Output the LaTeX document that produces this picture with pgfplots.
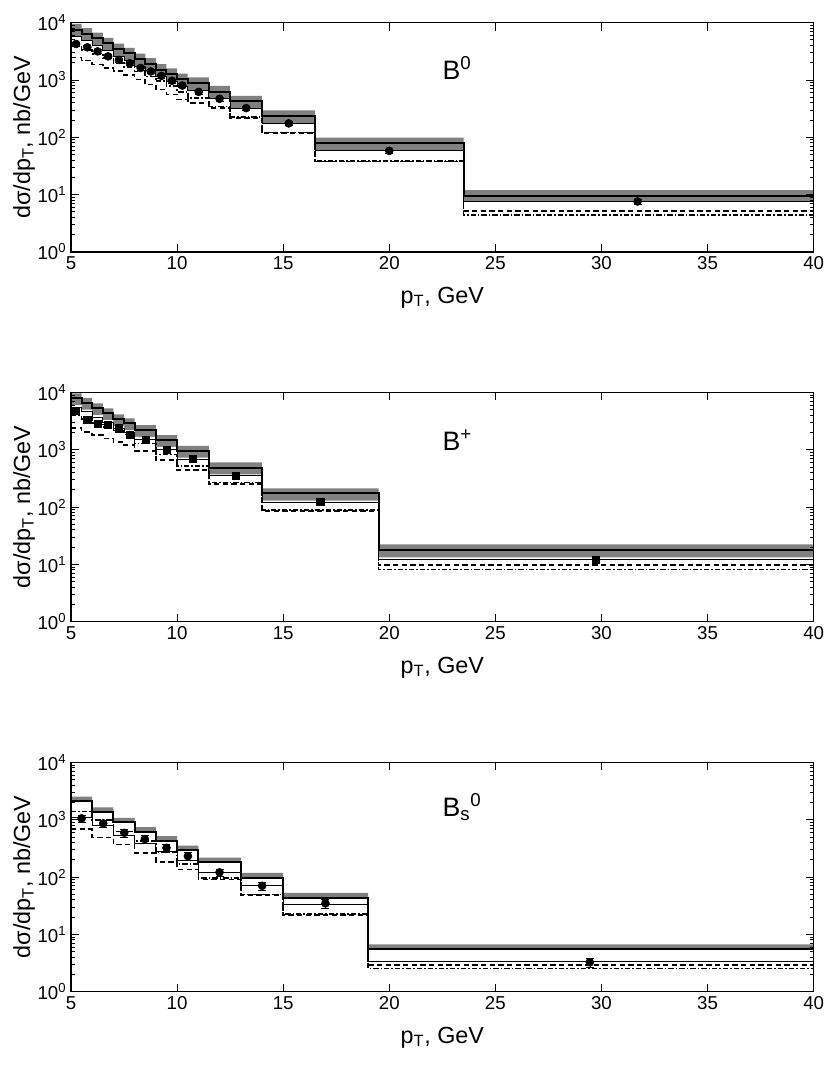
\documentclass[border=0pt]{standalone}
\usepackage{fontspec}
\setmainfont{Liberation Sans}
\usepackage{pgfplots}
\usepackage{pgfplotstable}
\pgfplotsset{compat=1.18}

% histogram tables: lower bin edge, band top, central, band bottom, thin, dashed, dash-dot
\pgfplotstableread{
x    up    c     lo    t     d     dd
5    9500  7600  5700  5700  2480  3900
5.5  8000  6400  4800  4800  2190  3350
6    6690  5350  4010  4010  1860  2850
6.5  5440  4350  3260  3260  1620  2400
7    4310  3450  2590  2590  1440  2000
7.5  3630  2900  2180  2180  1230  1700
8    2880  2300  1730  1730  1020  1400
8.5  2400  1920  1440  1440  830   1150
9    1900  1520  1140  1140  680   950
9.5  1590  1270  950   950   560   780
10   1290  1030  770   770   457   620
10.5 1110  885   660   660   400   480
11.5 790   630   470   470   324   345
12.5 528   422   316   316   216   225
14   294   235   176   176   118   122
16.5 99    79    59    59    38    39
23.5 12    9.6   7.5   7.5   5.2   4.4
40   12    9.6   7.5   7.5   5.2   4.4
}\hzero
\pgfplotstableread{
x     y     e
5.24  4250  340
5.77  3720  300
6.25  3160  250
6.75  2580  210
7.26  2240  180
7.77  1960  160
8.28  1620  130
8.76  1410  110
9.26  1180  95
9.76  970   80
10.25 800   65
11.02 620   50
12.0  470   38
13.26 324   26
15.26 175   14
20.0  58    5
31.7  7.6   0.8
}\pzero

\pgfplotstableread{
x    up    c     lo    t     d     dd
5    9590  7860  5970  5500  2410  4000
5.5  8050  6600  5020  4620  2060  3400
6    6430  5270  4000  3690  1800  2900
6.5  5250  4300  3270  3010  1580  2500
7    4140  3390  2580  2370  1380  2150
7.5  3510  2880  2190  2020  1200  1850
8    2680  2200  1670  1540  950   1290
9    1790  1470  1120  1030  660   830
10   1170  960   730   670   442   518
11.5 600   484   372   351   252   270
14   212   173   130   121   85    88
19.5 22.4  17.8  13.3  12.4  9.7   8.2
40   22.4  17.8  13.3  12.4  9.7   8.2
}\hplus
\pgfplotstableread{
x     y     e
5.24  4720  570
5.77  3380  400
6.25  2880  350
6.75  2690  320
7.26  2360  280
7.77  1800  220
8.51  1470  180
9.5   1010  120
10.75 707   85
12.76 347   42
16.75 124   15
29.72 11.9  1.6
}\pplus

\pgfplotstableread{
x    up    c     lo    t     d     dd
5    2540  2115  2115  1080  687   1400
6    1650  1377  1377  780   491   1000
7    1080  898   898   540   372   620
8    740   617   617   390   265   430
9    516   430   430   275   185   270
10   355   296   296   195   136   170
11   218   182   182   119   91    97
13   118   98    98    72.5  48.5  50
15   53    44    44    33.8  21.7  22.5
19   6.7   5.5   5.5   3.43  2.92  2.56
40   6.7   5.5   5.5   3.43  2.92  2.56
}\hs
\pgfplotstableread{
x     y     e
5.5   1056  160
6.52  864   130
7.51  592   90
8.48  460   75
9.5   324   50
10.51 232   38
12.0  121   18
14.01 70.5  12
16.99 34.8  6
29.45 3.26  0.55
}\ps

\pgfplotsset{
  bpanel/.style={
    scale only axis, width=557pt, height=172pt,
    xmin=5, xmax=40, ymin=1, ymax=10000,
    xtick={5,10,...,40},
    ytick={1,10,100,1000,10000},
    yticklabels={10\textsuperscript{0},10\textsuperscript{1},10\textsuperscript{2},10\textsuperscript{3},10\textsuperscript{4}},
    extra y ticks={2,3,4,5,6,7,8,9,20,30,40,50,60,70,80,90,200,300,400,500,600,700,800,900,2000,3000,4000,5000,6000,7000,8000,9000},
    extra y tick labels={},
    extra y tick style={major tick length=3pt},
    /pgf/number format/assume math mode=true,
    tick label style={font=\fontsize{14}{16}\selectfont},
    label style={font=\fontsize{17.5}{21}\selectfont},
    xlabel={p\textsubscript{T}, GeV},
    ylabel={dσ/dp\textsubscript{T}, nb/GeV},
    xlabel style={at={(axis description cs:0.5,-0.224)}, anchor=base},
    ylabel style={at={(axis description cs:-0.063,0.5)}, anchor=center},
    axis line style={line width=0.9pt},
    major tick length=6pt,
    tick style={black, line width=0.7pt},
    axis on top,
  },
  thick hist/.style={black, line width=1.5pt, const plot mark left},
  thin hist/.style={black, line width=0.7pt, const plot mark left},
  dash hist/.style={black, line width=1.2pt, const plot mark left, dash pattern=on 4pt off 2.5pt},
  dd hist/.style={black, line width=1.2pt, const plot mark left, dash pattern=on 4pt off 1.5pt on 1.2pt off 1.5pt},
  band top/.style={fill=gray, draw=none, const plot mark left},
  band bottom/.style={fill=white, draw=none, const plot mark left},
}
\tikzset{mlabel/.style={anchor=base west, inner sep=0pt, font=\fontsize{20}{24}\selectfont}}

\begin{document}
\begin{tikzpicture}
\path[use as bounding box] (-53.25pt,-609.75pt) rectangle (569.25pt,189pt);

\begin{axis}[bpanel, ymode=log, at={(0,0)}, anchor=south west]
\addplot[band top] table[x=x,y=up]{\hzero} \closedcycle;
\addplot[band bottom] table[x=x,y=lo]{\hzero} \closedcycle;
\addplot[thin hist] table[x=x,y=t]{\hzero};
\addplot[thick hist] table[x=x,y=c]{\hzero};
\addplot[dash hist] table[x=x,y=d]{\hzero};
\addplot[dd hist] table[x=x,y=dd]{\hzero};
\addplot[only marks, black, mark=*, mark size=3pt,
  error bars/.cd, y dir=both, y explicit]
  table[x=x,y=y,y error=e]{\pzero};
\node[mlabel] at (rel axis cs:0.50,0.751) {B\textsuperscript{0}};
\end{axis}

\begin{axis}[bpanel, ymode=log, at={(0,-277.3pt)}, anchor=south west]
\addplot[band top] table[x=x,y=up]{\hplus} \closedcycle;
\addplot[band bottom] table[x=x,y=lo]{\hplus} \closedcycle;
\addplot[thin hist] table[x=x,y=t]{\hplus};
\addplot[thick hist] table[x=x,y=c]{\hplus};
\addplot[dash hist] table[x=x,y=d]{\hplus};
\addplot[dd hist] table[x=x,y=dd]{\hplus};
\addplot[only marks, black, mark=square*, mark size=2.7pt,
  error bars/.cd, y dir=both, y explicit]
  table[x=x,y=y,y error=e]{\pplus};
\node[mlabel] at (rel axis cs:0.50,0.748) {B\textsuperscript{+}};
\end{axis}

\begin{axis}[bpanel, ymode=log, at={(0,-554.8pt)}, anchor=south west]
\addplot[band top] table[x=x,y=up]{\hs} \closedcycle;
\addplot[band bottom] table[x=x,y=lo]{\hs} \closedcycle;
\addplot[thin hist] table[x=x,y=t]{\hs};
\addplot[thick hist] table[x=x,y=c]{\hs};
\addplot[dash hist] table[x=x,y=d]{\hs};
\addplot[dd hist] table[x=x,y=dd]{\hs};
\addplot[only marks, black, mark=*, mark size=3pt,
  error bars/.cd, y dir=both, y explicit]
  table[x=x,y=y,y error=e]{\ps};
\node[mlabel] at (rel axis cs:0.50,0.763) {B\textsubscript{s}\textsuperscript{0}};
\end{axis}
\end{tikzpicture}
\end{document}
